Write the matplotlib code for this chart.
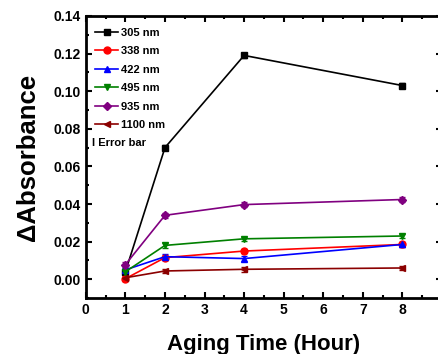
"""Delta absorbance vs aging time for six wavelengths."""
import matplotlib
matplotlib.use("Agg")
import matplotlib.pyplot as plt
from matplotlib.ticker import MultipleLocator

hours = [1, 2, 4, 8]
labels = ["305 nm", "338 nm", "422 nm", "495 nm", "935 nm", "1100 nm"]
a305 = [0.004, 0.070, 0.119, 0.103]
a338 = [0.0003, 0.0115, 0.015, 0.0185]
a422 = [0.005, 0.012, 0.011, 0.0185]
a495 = [0.004, 0.018, 0.0215, 0.023]
a935 = [0.0078, 0.034, 0.0397, 0.0424]
a1100 = [0.0008, 0.0044, 0.0053, 0.006]
err = [0.0012, 0.0012, 0.0012, 0.0012]

series = [a305, a338, a422, a495, a935, a1100]
colors = ["black", "red", "blue", "green", "purple", "darkred"]
markers = ["s", "o", "^", "v", "D", "<"]

plt.rcParams.update({
    "font.family": ["Liberation Sans", "DejaVu Sans"],
    "font.weight": "bold", "font.size": 10,
    "axes.linewidth": 2.0,
})

fig = plt.figure(figsize=(4.38, 3.54), dpi=100)
ax = fig.add_axes([0.196, 0.158, 0.813, 0.797])

handles = []
for ys, lab, c, m in zip(series, labels, colors, markers):
    ms = 4 if m == "D" else 5
    cont = ax.errorbar(hours, ys, yerr=err, color=c, marker=m, ms=ms, lw=1.2,
                       elinewidth=1.0, capsize=2, capthick=1.0, label=lab)
    handles.append(cont[0])

ax.set_xlim(0, 9)
ax.set_ylim(-0.01, 0.14)
ax.set_xticks([0, 1, 2, 3, 4, 5, 6, 7, 8])
ax.xaxis.set_minor_locator(MultipleLocator(0.5))
ax.set_yticks([0.0, 0.02, 0.04, 0.06, 0.08, 0.10, 0.12, 0.14])
ax.yaxis.set_minor_locator(MultipleLocator(0.01))
ax.yaxis.set_major_formatter(plt.FormatStrFormatter("%.2f"))
ax.tick_params(which="both", direction="in", top=True, right=True, width=1.5)
ax.tick_params(which="major", length=4)
ax.tick_params(which="minor", length=2.5)
for lab in ax.get_xticklabels() + ax.get_yticklabels():
    lab.set_fontweight("bold")

ax.set_xlabel("Aging Time (Hour)", fontsize=16, fontweight="bold", labelpad=12)
ax.set_ylabel("\u0394Absorbance", fontsize=18.5, fontweight="bold", labelpad=10)

ax.legend(handles, labels, loc="upper left", bbox_to_anchor=(0.005, 0.985),
          frameon=False, fontsize=8, handlelength=2.0, handletextpad=0.3,
          labelspacing=0.76, borderaxespad=0.3)
ax.text(0.017, 0.55, "I Error bar", transform=ax.transAxes, fontsize=8,
        fontweight="bold", va="center", ha="left")

fig.savefig("out.png", dpi=100)
